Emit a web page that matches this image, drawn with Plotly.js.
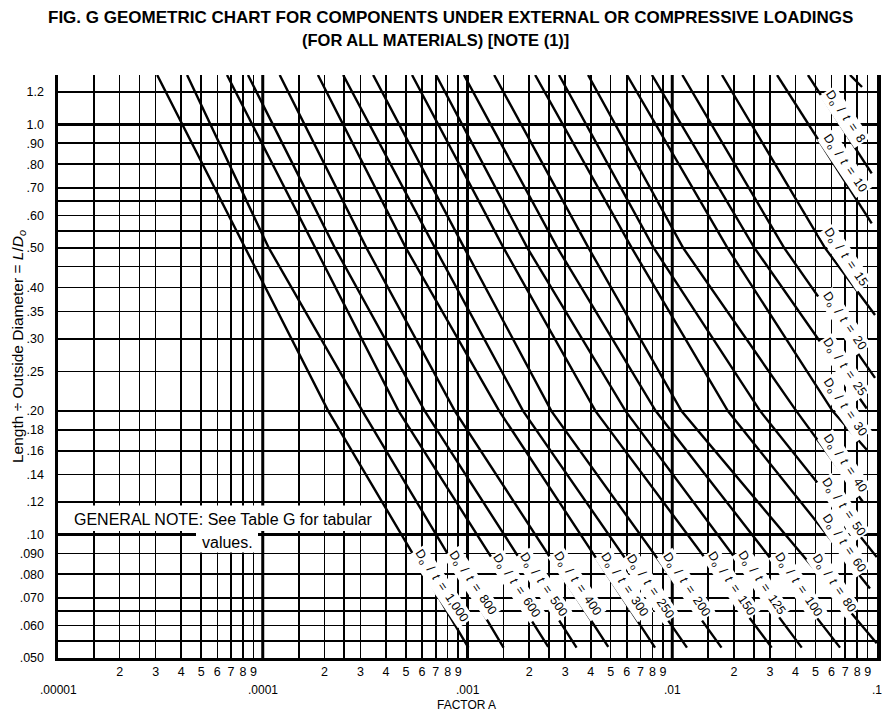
<!DOCTYPE html>
<html><head><meta charset="utf-8">
<script src="https://cdn.plot.ly/plotly-3.0.1.min.js"></script>
<style>html,body{margin:0;padding:0;background:#fff}#chart{width:896px;height:720px}</style>
</head><body><div id="chart"></div>
<script>
// ---- Data (Factor A vs L/Do, one curve per Do/t) ----
const doT = ['1,000','800','600','500','400','300','250','200','150','125','100','80','60','50','40','30','25','20','15','10','8'];

const A_1000 = [3.05e-5, 8.2e-5, 2.09e-4, 1.01e-3];  const LD_1000 = [1.32, 0.50, 0.20, 0.053];
const A_800  = [4.27e-5, 1.07e-4, 3.07e-4, 1.50e-3]; const LD_800  = [1.32, 0.50, 0.20, 0.053];
const A_600  = [6.69e-5, 1.81e-4, 4.61e-4, 2.48e-3]; const LD_600  = [1.32, 0.50, 0.20, 0.0532];
const A_500  = [8.47e-5, 2.25e-4, 6.19e-4, 3.41e-3]; const LD_500  = [1.32, 0.50, 0.20, 0.053];
const A_400  = [1.21e-4, 3.21e-4, 8.68e-4, 4.87e-3]; const LD_400  = [1.32, 0.50, 0.20, 0.0532];
const A_300  = [1.86e-4, 5.0e-4, 1.43e-3, 8.24e-3];  const LD_300  = [1.32, 0.50, 0.20, 0.053];
const A_250  = [2.47e-4, 6.94e-4, 1.87e-3, 1.18e-2]; const LD_250  = [1.32, 0.50, 0.20, 0.053];
const A_200  = [3.46e-4, 9.64e-4, 2.57e-3, 1.74e-2]; const LD_200  = [1.32, 0.50, 0.20, 0.053];
const A_150  = [5.36e-4, 1.50e-3, 4.22e-3, 3.06e-2]; const LD_150  = [1.32, 0.50, 0.20, 0.053];
const A_125  = [7.02e-4, 1.96e-3, 5.92e-3, 4.29e-2]; const LD_125  = [1.32, 0.50, 0.20, 0.053];
const A_100  = [9.61e-4, 2.75e-3, 8.31e-3, 6.60e-2]; const LD_100  = [1.32, 0.50, 0.20, 0.053];
const A_80   = [1.35e-3, 3.90e-3, 1.11e-2, 9.97e-2]; const LD_80   = [1.32, 0.50, 0.20, 0.0543];
const A_60   = [2.14e-3, 6.34e-3, 1.87e-2, 9.24e-2]; const LD_60   = [1.32, 0.50, 0.20, 0.0739];
const A_50   = [2.80e-3, 8.12e-3, 2.69e-2, 9.97e-2]; const LD_50   = [1.32, 0.50, 0.20, 0.0881];
const A_40   = [3.88e-3, 1.13e-2, 4.04e-2, 8.54e-2]; const LD_40   = [1.32, 0.50, 0.20, 0.120];
const A_30   = [6.01e-3, 1.86e-2, 6.07e-2, 8.91e-2]; const LD_30   = [1.32, 0.50, 0.20, 0.161];
const A_25   = [7.96e-3, 2.52e-2, 8.91e-2];          const LD_25   = [1.32, 0.50, 0.203];
const A_20   = [1.12e-2, 3.52e-2, 9.78e-2];          const LD_20   = [1.32, 0.50, 0.241];
const A_15   = [1.75e-2, 5.57e-2, 9.78e-2];          const LD_15   = [1.32, 0.50, 0.343];
const A_10   = [3.25e-2, 9.42e-2];                   const LD_10   = [1.32, 0.574];
const A_8    = [4.60e-2, 9.42e-2];                   const LD_8    = [1.32, 0.760];
const A_corner  = [7.38e-2, 8.45e-2];                const LD_corner = [1.32, 1.234];

// grid / tick labels
const xMultipliers = [1, 1.5, 2, 2.5, 3, 4, 5, 6, 7, 8, 9];
const xMultLabels  = ['', '', '2', '', '3', '4', '5', '6', '7', '8', '9'];
const decadeValues = [1e-5, 1e-4, 1e-3, 1e-2, 1e-1];
const decadeLabels = ['.00001', '.0001', '.001', '.01', '.1'];
const yGridVals = [1.2, 1.0, 0.9, 0.8, 0.7, 0.65, 0.6, 0.55, 0.5, 0.45, 0.4, 0.35, 0.3, 0.25, 0.2, 0.18, 0.16, 0.14, 0.12, 0.1, 0.09, 0.08, 0.07, 0.065, 0.06, 0.055, 0.05];
const yGridText = ['1.2', '1.0', '.90', '.80', '.70', '', '.60', '', '.50', '', '.40', '.35', '.30', '.25', '.20', '.18', '.16', '.14', '.12', '.10', '.090', '.080', '.070', '', '.060', '', '.050'];

// ---- build ----
const seriesA  = [A_1000, A_800, A_600, A_500, A_400, A_300, A_250, A_200, A_150, A_125, A_100, A_80, A_60, A_50, A_40, A_30, A_25, A_20, A_15, A_10, A_8];
const seriesLD = [LD_1000, LD_800, LD_600, LD_500, LD_400, LD_300, LD_250, LD_200, LD_150, LD_125, LD_100, LD_80, LD_60, LD_50, LD_40, LD_30, LD_25, LD_20, LD_15, LD_10, LD_8];

const traces = seriesA.map((a, i) => ({
  x: a, y: seriesLD[i], type: 'scatter', mode: 'lines', name: 'Do/t = ' + doT[i],
  line: {color: '#000', width: 2.4}, hoverinfo: 'skip'
}));
traces.push({x: A_corner, y: LD_corner, type: 'scatter', mode: 'lines', line: {color: '#000', width: 2.4}, hoverinfo: 'skip'});

const xTickVals = [], xTickText = [];
for (let d = -5; d <= -2; d++) {
  xMultipliers.forEach((m, j) => { xTickVals.push(m * Math.pow(10, d)); xTickText.push(xMultLabels[j]); });
}

const yLo = Math.log10(0.05), yHi = Math.log10(1.32);
const yPaper = v => (Math.log10(v) - yLo) / (yHi - yLo);
const xPaper = v => (Math.log10(v) + 5) / 4;

const W = 819, H = 583, L0 = 58, T0 = 75;
const px = x => (x - L0) / W, py = y => (T0 + H - y) / H;

const shapes = [];
// heavy decade lines
[1e-4, 1e-3, 1e-2].forEach(v => shapes.push({type: 'line', xref: 'paper', yref: 'paper', x0: xPaper(v), x1: xPaper(v), y0: 0, y1: 1, line: {color: '#000', width: 3}, layer: 'between'}));
[1.0, 0.1].forEach(v => shapes.push({type: 'line', xref: 'paper', yref: 'paper', x0: 0, x1: 1, y0: yPaper(v), y1: yPaper(v), line: {color: '#000', width: 3}, layer: 'between'}));
// white areas behind the general note
shapes.push({type: 'rect', xref: 'paper', yref: 'paper', x0: px(61), x1: px(370), y0: py(531), y1: py(505.5), fillcolor: '#fff', line: {width: 0}, layer: 'above'});
shapes.push({type: 'rect', xref: 'paper', yref: 'paper', x0: px(196), x1: px(258), y0: py(552.5), y1: py(529), fillcolor: '#fff', line: {width: 0}, layer: 'above'});

const annotations = [];
const sp = '\u2002';
// curve labels (page pixel centres)
const labelPos = [[441,586],[472,583.3],[516,586],[543,585],[577,584],[624,585],[650,586.7],[686,585],[731,584],[761,583.3],[798,585],[833,583.3],[843,543.3],[843,506.7],[844,463.3],[844,407.3],[844,366.7],[844,320.7],[845,257],[844,163.3],[845,116.7]];
doT.forEach((t, i) => annotations.push({
  xref: 'paper', yref: 'paper', x: px(labelPos[i][0]), y: py(labelPos[i][1]), xanchor: 'center', yanchor: 'middle',
  text: 'D<sub>o</sub>' + sp + '/' + sp + '<i>t</i>' + sp + '=' + sp + t, showarrow: false, textangle: 56,
  font: {size: 12.5, color: '#000'}, bgcolor: '#fff', borderpad: 1
}));
decadeValues.forEach((v, i) => annotations.push({
  xref: 'paper', yref: 'paper', x: xPaper(v), y: py(690), xanchor: 'center', yanchor: 'middle',
  text: decadeLabels[i], showarrow: false, font: {size: 12, color: '#000'}
}));
annotations.push({xref: 'paper', yref: 'paper', x: px(466), y: py(705), text: 'FACTOR A', showarrow: false, font: {size: 12, color: '#000'}, yanchor: 'middle'});
annotations.push({xref: 'paper', yref: 'paper', x: px(18), y: py(347), text: 'Length ÷ Outside Diameter = <i>L</i>/<i>D<sub>o</sub></i>', showarrow: false, textangle: -90, font: {size: 15.5, color: '#000'}, xanchor: 'center', yanchor: 'middle'});
annotations.push({xref: 'paper', yref: 'paper', x: px(72), y: py(519), xanchor: 'left', yanchor: 'middle', text: 'GENERAL NOTE: See Table G for tabular', showarrow: false, font: {size: 16, color: '#000'}});
annotations.push({xref: 'paper', yref: 'paper', x: px(200), y: py(542), xanchor: 'left', yanchor: 'middle', text: 'values.', showarrow: false, font: {size: 16, color: '#000'}});
annotations.push({xref: 'paper', yref: 'paper', x: px(450), y: py(18), xanchor: 'center', yanchor: 'middle', text: '<b>FIG. G GEOMETRIC CHART FOR COMPONENTS UNDER EXTERNAL OR COMPRESSIVE LOADINGS</b>', showarrow: false, font: {size: 17, color: '#000'}});
annotations.push({xref: 'paper', yref: 'paper', x: px(435), y: py(40), xanchor: 'center', yanchor: 'middle', text: '<b>(FOR ALL MATERIALS) [NOTE (1)]</b>', showarrow: false, font: {size: 16.5, color: '#000'}});

const layout = {
  width: 896, height: 720,
  margin: {l: 58, r: 19, t: 75, b: 62},
  paper_bgcolor: '#fff', plot_bgcolor: '#fff', showlegend: false,
  font: {family: 'Liberation Sans, Arial, sans-serif', color: '#000', size: 12},
  xaxis: {type: 'log', range: [-5, -1], tickmode: 'array', tickvals: xTickVals, ticktext: xTickText,
          showgrid: true, gridcolor: '#000', gridwidth: 1.6, ticks: '', showline: true, linecolor: '#000', linewidth: 3,
          zeroline: false, tickfont: {size: 12.5, color: '#000'}, ticklabelstandoff: 0, fixedrange: true},
  yaxis: {type: 'log', range: [yLo, yHi], tickmode: 'array', tickvals: yGridVals, ticktext: yGridText,
          showgrid: true, gridcolor: '#000', gridwidth: 1.6, ticks: '', showline: true, mirror: true, linecolor: '#000', linewidth: 3.5,
          zeroline: false, tickfont: {size: 12.5, color: '#000'}, ticklabelstandoff: 8, fixedrange: true},
  shapes: shapes, annotations: annotations
};
Plotly.newPlot('chart', traces, layout, {staticPlot: true, displayModeBar: false});
</script></body></html>
